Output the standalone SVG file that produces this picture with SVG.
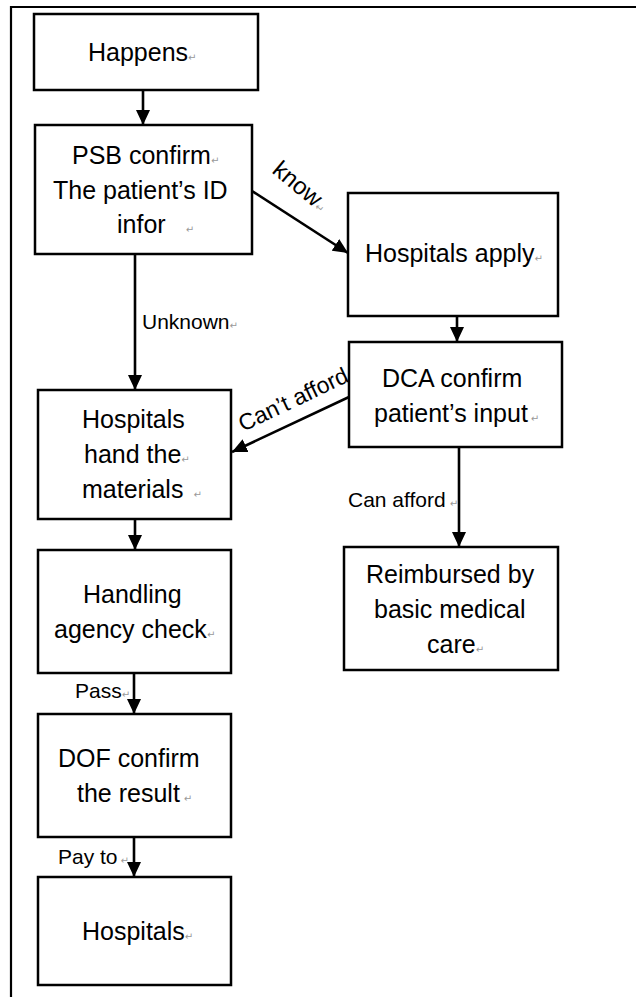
<svg xmlns="http://www.w3.org/2000/svg" width="636" height="997" viewBox="0 0 636 997">
<style>
.box{fill:#fff;stroke:#000;stroke-width:2.5}
.t{font-family:"Liberation Sans",Arial,sans-serif;font-size:25px;fill:#000}
.l{font-family:"Liberation Sans",Arial,sans-serif;font-size:21px;fill:#000}
.pm{font-family:"DejaVu Sans",sans-serif;font-size:10px;fill:#999}
.c{stroke:#000;stroke-width:2.6;fill:none;marker-end:url(#ah)}
</style>
<defs>
<marker id="ah" markerUnits="userSpaceOnUse" markerWidth="16" markerHeight="14" refX="15" refY="7" orient="auto">
<path d="M0,0 L15,7 L0,14 z" fill="#000"/>
</marker>
</defs>
<rect width="636" height="997" fill="#fff"/>
<path d="M11,997 L11,7 L636,7" fill="none" stroke="#000" stroke-width="2.2"/>

<g id="connectors">
<line class="c" x1="143" y1="90" x2="143" y2="125"/>
<line class="c" x1="252" y1="191" x2="348" y2="253"/>
<line class="c" x1="135" y1="254" x2="135" y2="390"/>
<line class="c" x1="457" y1="316" x2="457" y2="342"/>
<line class="c" x1="349" y1="397" x2="232" y2="452"/>
<line class="c" x1="459" y1="447" x2="459" y2="547"/>
<line class="c" x1="135" y1="519" x2="135" y2="550"/>
<line class="c" x1="134" y1="673" x2="134" y2="714"/>
<line class="c" x1="134" y1="837" x2="134" y2="877"/>
<text class="l" style="font-size:24px" transform="translate(271,172) rotate(40)">know<tspan class="pm">↵</tspan></text>
<text class="l" x="142" y="329">Unknown<tspan class="pm">↵</tspan></text>
<text class="l" style="font-size:23px" transform="translate(243,432) rotate(-25.5)">Can’t afford<tspan class="pm">↵</tspan></text>
<text class="l" x="348" y="507">Can afford<tspan class="pm" dx="4">↵</tspan></text>
<text class="l" x="75" y="698">Pass<tspan class="pm">↵</tspan></text>
<text class="l" x="58" y="864">Pay to<tspan class="pm" dx="3">↵</tspan></text>
</g>

<g id="happens">
<rect class="box" x="34" y="14" width="224" height="76"/>
<text class="t" x="88" y="61">Happens<tspan class="pm">↵</tspan></text>
</g>
<g id="psb">
<rect class="box" x="35" y="125" width="217" height="129"/>
<text class="t" x="72" y="164">PSB confirm<tspan class="pm">↵</tspan></text>
<text class="t" x="53" y="199">The patient’s ID</text>
<text class="t" x="117" y="233">infor<tspan class="pm" dx="20">↵</tspan></text>
</g>
<g id="hospitals-apply">
<rect class="box" x="348" y="193" width="210" height="123"/>
<text class="t" x="365" y="262">Hospitals apply<tspan class="pm">↵</tspan></text>
</g>
<g id="dca">
<rect class="box" x="349" y="342" width="213" height="105"/>
<text class="t" x="382" y="387">DCA confirm</text>
<text class="t" x="374" y="422">patient’s input<tspan class="pm" dx="3">↵</tspan></text>
</g>
<g id="hospitals-hand">
<rect class="box" x="38" y="390" width="193" height="129"/>
<text class="t" x="82" y="428">Hospitals</text>
<text class="t" x="84" y="463">hand the<tspan class="pm">↵</tspan></text>
<text class="t" x="82" y="498">materials<tspan class="pm" dx="10">↵</tspan></text>
</g>
<g id="reimbursed">
<rect class="box" x="344" y="547" width="214" height="123"/>
<text class="t" x="366" y="583">Reimbursed by</text>
<text class="t" x="374" y="618">basic medical</text>
<text class="t" x="427" y="653">care<tspan class="pm">↵</tspan></text>
</g>
<g id="handling">
<rect class="box" x="38" y="550" width="193" height="123"/>
<text class="t" x="83" y="603">Handling</text>
<text class="t" x="54" y="638">agency check<tspan class="pm">↵</tspan></text>
</g>
<g id="dof">
<rect class="box" x="38" y="714" width="193" height="123"/>
<text class="t" x="58" y="767">DOF confirm</text>
<text class="t" x="77" y="802">the result<tspan class="pm" dx="4">↵</tspan></text>
</g>
<g id="hospitals">
<rect class="box" x="38" y="877" width="193" height="108"/>
<text class="t" x="82" y="940">Hospitals<tspan class="pm">↵</tspan></text>
</g>
</svg>
